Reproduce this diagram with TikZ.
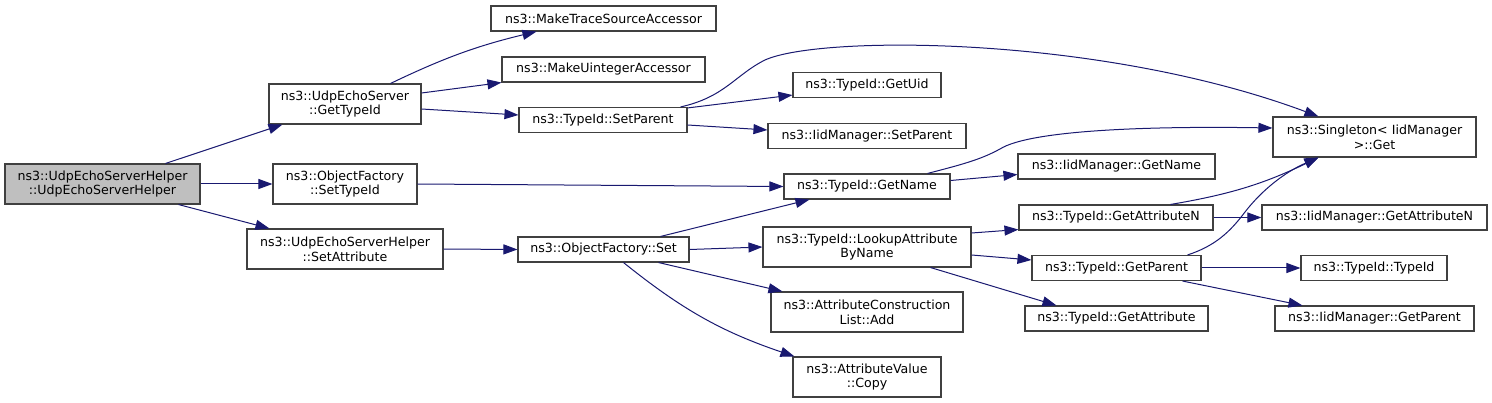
\documentclass[tikz,border=0pt]{standalone}
\usepackage{fontspec}
\setmainfont{DejaVu Sans}
\usepackage{xcolor}
\usepackage{tikz}
\usetikzlibrary{arrows.meta}
\definecolor{boxgray}{HTML}{404040}
\definecolor{mainfill}{HTML}{BFBFBF}
\definecolor{navy}{HTML}{191970}
\tikzstyle{fn}=[
draw=boxgray,
line width=1.1pt,
fill=white,
minimum height=25pt,
inner sep=0pt,
align=center,
font=\fontsize{12.6}{14.7}\selectfont
]
\tikzstyle{fntwo}=[
fn,
minimum height=40pt
]
\tikzstyle{call}=[
line width=1pt,
draw=navy,
-{Triangle[length=14pt,width=10pt]}
]

\begin{document}
\begin{tikzpicture}[x=1pt,y=-1pt]
\useasboundingbox (0,0) rectangle (1492,403);

\node (main) [fntwo, fill=mainfill, minimum width=195pt] at (102.5,184) {ns3::UdpEchoServerHelper\\::UdpEchoServerHelper};

\node (gettypeid) [fntwo, minimum width=152pt] at (345,104) {ns3::UdpEchoServer\\::GetTypeId};
\node (settypeid) [fntwo, minimum width=144pt] at (345,184) {ns3::ObjectFactory\\::SetTypeId};
\node (setattr) [fntwo, minimum width=196pt] at (345,249) {ns3::UdpEchoServerHelper\\::SetAttribute};

\node (tracesrc) [fn, minimum width=225pt] at (603.5,18.5) {ns3::MakeTraceSourceAccessor};
\node (uintacc) [fn, minimum width=203pt] at (603.5,69.5) {ns3::MakeUintegerAccessor};
\node (setparent) [fn, minimum width=168pt] at (603,120) {ns3::TypeId::SetParent};
\node (ofset) [fn, minimum width=171pt] at (603.5,249.5) {ns3::ObjectFactory::Set};

\node (getuid) [fn, minimum width=148pt] at (867,85) {ns3::TypeId::GetUid};
\node (iidsetparent) [fn, minimum width=198pt] at (867,136) {ns3::IidManager::SetParent};
\node (getname) [fn, minimum width=166pt] at (867,186.5) {ns3::TypeId::GetName};
\node (lookup) [fntwo, minimum width=208pt] at (867,247) {ns3::TypeId::LookupAttribute\\ByName};
\node (attradd) [fntwo, minimum width=192pt] at (867,312) {ns3::AttributeConstruction\\List::Add};
\node (attrcopy) [fntwo, minimum width=148pt] at (867,377) {ns3::AttributeValue\\::Copy};

\node (iidgetname) [fn, minimum width=197pt] at (1116.5,166.5) {ns3::IidManager::GetName};
\node (getattrn) [fn, minimum width=194pt] at (1116,217.5) {ns3::TypeId::GetAttributeN};
\node (getparent) [fn, minimum width=169pt] at (1116.5,268) {ns3::TypeId::GetParent};
\node (getattr) [fn, minimum width=183pt] at (1116.5,318.5) {ns3::TypeId::GetAttribute};

\node (singleton) [fntwo, minimum width=203pt] at (1374.5,137) {ns3::Singleton< IidManager\\ >::Get};
\node (iidgetattrn) [fn, minimum width=225pt] at (1374.5,217.5) {ns3::IidManager::GetAttributeN};
\node (typeidctor) [fn, minimum width=146pt] at (1374,268) {ns3::TypeId::TypeId};
\node (iidgetparent) [fn, minimum width=199pt] at (1374.5,318.5) {ns3::IidManager::GetParent};

\draw [call] ([xshift=-35pt]main.north east) -- ([xshift=14pt]gettypeid.south west);
\draw [call] (main.east) -- (settypeid.west);
\draw [call] ([xshift=-22pt]main.south east) -- ([xshift=23pt]setattr.north west);

\draw [call] ([xshift=-31pt]gettypeid.north east) to[bend left=6] ([xshift=46pt]tracesrc.south west);
\draw [call] ([yshift=11pt]gettypeid.east) -- (uintacc.south west);
\draw [call] ([yshift=-5pt]gettypeid.east) -- ([yshift=5pt]setparent.west);
\draw [call] (settypeid.east) -- (getname.west);
\draw [call] (setattr.east) -- (ofset.west);

\draw [call] ([xshift=-7pt]setparent.north east) .. controls (725,97) and (735,75) .. (765,60) .. controls (820,35) and (1100,35) .. ([xshift=46pt]singleton.north west);
\draw [call] ([yshift=-1pt]setparent.north east) -- ([yshift=3pt]getuid.south west);
\draw [call] ([yshift=-5pt]setparent.east) -- ([yshift=6pt]iidsetparent.west);

\draw [call] ([xshift=-29pt]ofset.north east) -- ([xshift=26pt]getname.south west);
\draw [call] (ofset.east) -- (lookup.west);
\draw [call] ([xshift=-31pt]ofset.south east) -- ([xshift=12pt]attradd.north west);
\draw [call] ([xshift=20pt]ofset.south) to[bend right=10] ([xshift=2pt]attrcopy.north west);

\draw [call] ([xshift=-23pt]getname.north east) .. controls (960,165) and (980,160) .. (1000,149) .. controls (1030,130) and (1150,126) .. ([yshift=9pt]singleton.west);
\draw [call] ([yshift=6pt]getname.east) -- ([yshift=-8pt]iidgetname.west);

\draw [call] ([yshift=14pt]lookup.east) -- ([yshift=1pt]getattrn.south west);
\draw [call] ([yshift=-8pt]lookup.east) -- ([yshift=8pt]getparent.west);
\draw [call] ([xshift=-41pt]lookup.south east) -- ([xshift=32pt]getattr.north west);

\draw [call] ([xshift=-43pt]getattrn.north east) to[bend right=8] ([xshift=46pt]singleton.south west);
\draw [call] (getattrn.east) -- (iidgetattrn.west);

\draw [call] ([xshift=-14pt]getparent.north east) .. controls (1215,246) and (1230,232) .. (1245,212) .. controls (1262,190) and (1285,172) .. ([xshift=46pt]singleton.south west);
\draw [call] (getparent.east) -- (typeidctor.west);
\draw [call] ([xshift=-19pt]getparent.south east) -- ([xshift=28pt]iidgetparent.north west);

\end{tikzpicture}
\end{document}
